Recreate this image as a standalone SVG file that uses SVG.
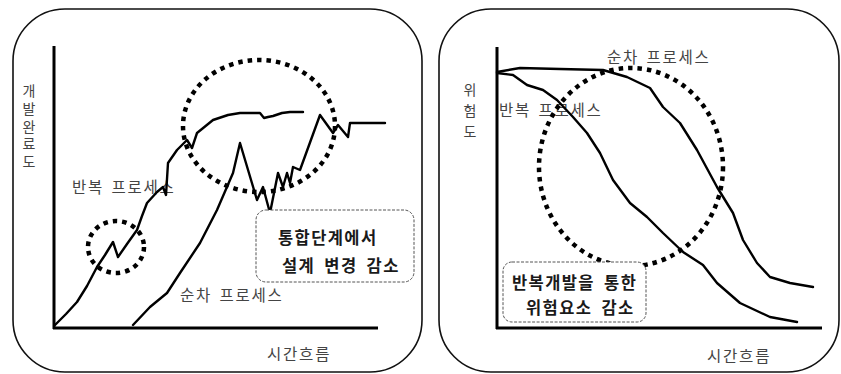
<svg xmlns="http://www.w3.org/2000/svg" width="841" height="374" viewBox="0 0 841 374">
<defs>
<style>
.panel{fill:#fff;stroke:#111;stroke-width:1.6}
.axis{fill:none;stroke:#000;stroke-width:3}
.curve{fill:none;stroke:#000;stroke-width:2.4;stroke-linejoin:round;stroke-linecap:round}
.dots{fill:none;stroke:#000;stroke-width:4.5;stroke-dasharray:4.5 5}
.box{fill:#fff;stroke:#555;stroke-width:1;stroke-dasharray:3 1.5}
.lbl{font-family:"Noto Sans CJK KR","Noto Sans",sans-serif;font-size:15.5px;fill:#444;letter-spacing:1.8px;word-spacing:2px}
.vlbl{font-family:"Noto Sans CJK KR","Noto Sans",sans-serif;font-size:14px;fill:#444;writing-mode:vertical-rl}
.boxt{font-family:"Noto Sans CJK KR","Noto Sans",sans-serif;font-size:16.5px;font-weight:bold;fill:#1a1a1a;letter-spacing:1.4px;word-spacing:4px}
</style>
</defs>
<rect width="841" height="374" fill="#fff"/>
<g id="panel-left">
<rect class="panel" x="13" y="9" width="409" height="363" rx="52"/>
<line class="axis" x1="54" y1="46" x2="54" y2="329"/>
<line class="axis" x1="53" y1="328" x2="378" y2="328"/>
<text class="vlbl" x="29" y="84" style="letter-spacing:3.6px">개발완료도</text>
<text class="lbl" x="72" y="193">반복 프로세스</text>
<text class="lbl" x="180" y="301">순차 프로세스</text>
<text class="lbl" x="267" y="360">시간흐름</text>
</g>
<g id="panel-right">
<rect class="panel" x="439" y="9" width="400" height="363" rx="52"/>
<line class="axis" x1="497" y1="47" x2="497" y2="329"/>
<line class="axis" x1="496" y1="328" x2="822" y2="328"/>
<text class="vlbl" x="470" y="83" style="letter-spacing:7px">위험도</text>
<text class="lbl" x="607" y="63">순차 프로세스</text>
<text class="lbl" x="499" y="116">반복 프로세스</text>
<text class="lbl" x="707" y="362">시간흐름</text>
</g>
<g id="connectors">
<polyline class="curve" points="55,325 66,314 77,302 87,286 97,267 105,255 113,242 118,257 127,244 137,230 142,216 147,203 157,192 163,187 166,195 168,163 177,150 187,140 192,148 197,133 213,120 228,115 240,113 260,113 264,118 268,117 273,116 282,113 290,112 303,112"/>
<polyline class="curve" points="133,325 150,307 167,293 180,273 200,243 217,210 233,173 240,143 257,200 263,187 270,213 278,173 283,187 287,173 290,183 293,167 300,170 320,115 333,133 338,125 348,137 350,123 385,123"/>
<polyline class="curve" points="497,72 520,68 560,69 603,70 627,77 650,88 663,107 680,123 697,150 717,187 733,213 743,240 757,263 770,277 790,283 813,287"/>
<polyline class="curve" points="497,73 513,75 527,85 543,90 557,100 573,117 587,133 600,153 613,180 630,203 647,217 663,233 683,252 703,265 717,283 740,303 770,317 797,322"/>
</g>
<g id="highlights">
<ellipse class="dots" cx="259" cy="126" rx="76" ry="66"/>
<ellipse class="dots" cx="116" cy="247" rx="28" ry="26"/>
<ellipse class="dots" cx="631" cy="167" rx="92" ry="99"/>
</g>
<g id="note-left">
<rect class="box" x="256" y="210" width="158" height="72" rx="10"/>
<text class="boxt" x="278" y="244">통합단계에서</text>
<text class="boxt" x="282" y="272">설계 변경 감소</text>
</g>
<g id="note-right">
<rect class="box" x="503" y="262" width="143" height="60" rx="9"/>
<text class="boxt" x="512" y="289">반복개발을 통한</text>
<text class="boxt" x="526" y="314">위험요소 감소</text>
</g>
</svg>
